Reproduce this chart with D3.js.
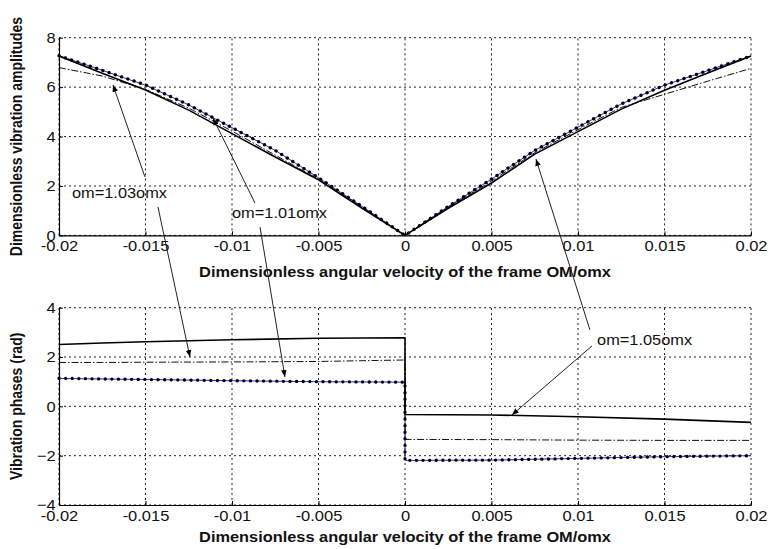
<!DOCTYPE html>
<html><head><meta charset="utf-8">
<script src="https://cdn.jsdelivr.net/npm/d3@7/dist/d3.min.js"></script>
<style>
body{margin:0;background:#fff;}
text{font-family:"Liberation Sans",Arial,sans-serif;}
</style></head>
<body><svg id="c" width="768" height="549"></svg>
<script>
// ---------- data ----------
const xTop = [-0.02,-0.0175,-0.015,-0.0125,-0.01,-0.0075,-0.005,-0.0025,0,0.0025,0.005,0.0075,0.01,0.0125,0.015,0.0175,0.02];
const ampSolid   = [7.26,6.56,5.88,5.07,4.12,3.17,2.25,1.11,0,1.10,2.12,3.29,4.20,5.11,5.87,6.57,7.26];
const ampDashDot = [6.79,6.45,5.91,5.15,4.22,3.25,2.27,1.15,0,1.14,2.20,3.35,4.28,5.18,5.71,6.24,6.76];
const ampDotted  = [7.27,6.68,6.09,5.28,4.36,3.44,2.33,1.18,0,1.17,2.28,3.44,4.38,5.32,6.08,6.67,7.26];
const ampBlue    = [7.27,6.68,6.08,5.28,4.36,3.44,2.33,1.18,0,1.17,2.28,3.44,4.38,5.32,6.08,6.67,7.26];

const xBot = [-0.02,-0.0175,-0.015,-0.01,-0.005,0,0,0.005,0.01,0.015,0.02];
const phSolid   = [2.51,2.57,2.62,2.70,2.76,2.78,-0.33,-0.35,-0.42,-0.52,-0.65];
const phDashDot = [1.78,1.78,1.79,1.80,1.82,1.88,-1.34,-1.35,-1.37,-1.38,-1.38];
const phDotted  = [1.14,1.11,1.09,1.04,1.00,0.98,-2.19,-2.18,-2.11,-2.04,-2.00];
const phBlue    = [1.13,1.11,1.09,1.04,1.00,0.98,-2.19,-2.18,-2.11,-2.04,-2.00];

const xTicks = [-0.02,-0.015,-0.01,-0.005,0,0.005,0.01,0.015,0.02];
const xTickLabels = ["-0.02","-0.015","-0.01","-0.005","0","0.005","0.01","0.015","0.02"];
const yTicksTop = [0,2,4,6,8];
const yTicksBot = [-4,-2,0,2,4];
const xLabel = "Dimensionless angular velocity of the frame OM/omx";
const yLabelTop = "Dimensionless vibration amplitudes";
const yLabelBot = "Vibration phases (rad)";

// annotations: text + arrows (panel, x, y) in data units
const annLabels = ["om=1.03omx","om=1.01omx","om=1.05omx"];
const annTextPos = [{p:"top",x:-0.01925,y:1.51},{p:"top",x:-0.0100,y:0.70},{p:"bot",x:0.0111,y:2.47}];
const annArrows = [
  [{p:"top",x:-0.01503,y:2.36},{p:"top",x:-0.01688,y:6.09}],
  [{p:"top",x:-0.01428,y:1.15},{p:"bot",x:-0.01243,y:2.0}],
  [{p:"top",x:-0.00867,y:1.31},{p:"top",x:-0.0111,y:4.75}],
  [{p:"top",x:-0.00838,y:0.34},{p:"bot",x:-0.00694,y:1.19}],
  [{p:"bot",x:0.01081,y:2.45},{p:"bot",x:0.00618,y:-0.35}],
  [{p:"bot",x:0.01069,y:3.10},{p:"top",x:0.00757,y:3.09}]
];

// ---------- layout ----------
const svg = d3.select("#c");
const SXT = 1.1;   // tick label stretch
const SXL = 1.17;  // axis label / annotation stretch
const x = d3.scaleLinear().domain([-0.02,0.02]).range([59,751]);
const yTop = d3.scaleLinear().domain([0,8]).range([235.4,37.7]);
const yBot = d3.scaleLinear().domain([-4,4]).range([505,307.7]);
const yOf = {top:yTop, bot:yBot};

const defs = svg.append("defs");
defs.append("marker").attr("id","ah").attr("viewBox","0 0 10 10").attr("refX",10).attr("refY",5)
  .attr("markerWidth",7).attr("markerHeight",7).attr("markerUnits","userSpaceOnUse").attr("orient","auto")
  .append("path").attr("d","M0,1 L10,5 L0,9 Z").attr("fill","#000");

function panel(y, yTicks, xs, series, ylab, xlabOffset) {
  const g = svg.append("g");
  const [y0,y1] = y.range();
  g.selectAll(".gx").data(xTicks).join("line")
    .attr("x1",d=>x(d)).attr("x2",d=>x(d)).attr("y1",y0).attr("y2",y1)
    .attr("stroke","#222").attr("stroke-width",1).attr("stroke-dasharray","2,3");
  g.selectAll(".gy").data(yTicks).join("line")
    .attr("x1",x.range()[0]).attr("x2",x.range()[1]).attr("y1",d=>y(d)).attr("y2",d=>y(d))
    .attr("stroke","#222").attr("stroke-width",1).attr("stroke-dasharray","2,3");
  const ax = g.append("g").attr("transform",`translate(0,${y0})`)
    .call(d3.axisBottom(x).tickValues(xTicks).tickFormat((d,i)=>xTickLabels[i]).tickSizeInner(-4).tickSizeOuter(0).tickPadding(5));
  ax.select(".domain").attr("stroke","#000").attr("stroke-width",1.2);
  ax.selectAll("text").attr("font-size",15).attr("fill","#111").attr("transform",`scale(${SXT},1)`);
  const ay = g.append("g").attr("transform",`translate(${x.range()[0]},0)`)
    .call(d3.axisLeft(y).tickValues(yTicks).tickSizeInner(-4).tickSizeOuter(0).tickPadding(3));
  ay.select(".domain").attr("stroke","#000").attr("stroke-width",1.2);
  ay.selectAll("text").attr("font-size",15).attr("fill","#111").attr("transform",`scale(${SXT},1)`);
  const line = vals => d3.line().x((d,i)=>x(xs[i])).y(d=>y(d))(vals);
  series.forEach(s=>{
    g.append("path").attr("d",line(s.v)).attr("fill","none")
      .attr("stroke",s.c).attr("stroke-width",s.w).attr("stroke-dasharray",s.dash||null)
      .attr("stroke-linecap",s.cap||"butt").attr("stroke-linejoin","round");
  });
  g.append("text").attr("transform",`translate(22,${(y0+y1)/2}) rotate(-90) scale(1,${SXL})`)
    .attr("text-anchor","middle").attr("font-weight","bold").attr("font-size",14).attr("fill","#111").text(ylab);
  g.append("text").attr("transform",`translate(405,${y0+xlabOffset}) scale(${SXL},1)`)
    .attr("text-anchor","middle").attr("font-weight","bold").attr("font-size",14).attr("fill","#111").text(xLabel);
}

const styles = (b,d,dd,s)=>[
  {v:b, c:"#2b2bd8", w:1},
  {v:d, c:"#000", w:3.3, dash:"0.1,6.5", cap:"round"},
  {v:dd, c:"#111", w:1, dash:"7,2,1.5,2"},
  {v:s, c:"#000", w:1.6}
];
panel(yTop, yTicksTop, xTop, styles(ampBlue,ampDotted,ampDashDot,ampSolid), yLabelTop, 41.5);
panel(yBot, yTicksBot, xBot, styles(phBlue,phDotted,phDashDot,phSolid), yLabelBot, 37);

annLabels.forEach((t,i)=>{
  const p = annTextPos[i];
  svg.append("text").attr("transform",`translate(${x(p.x)},${yOf[p.p](p.y)}) scale(${SXL},1)`)
    .attr("font-size",14).attr("fill","#111").text(t);
});
annArrows.forEach(a=>{
  svg.append("line")
    .attr("x1",x(a[0].x)).attr("y1",yOf[a[0].p](a[0].y))
    .attr("x2",x(a[1].x)).attr("y2",yOf[a[1].p](a[1].y))
    .attr("stroke","#222").attr("stroke-width",1).attr("marker-end","url(#ah)");
});
</script></body></html>
